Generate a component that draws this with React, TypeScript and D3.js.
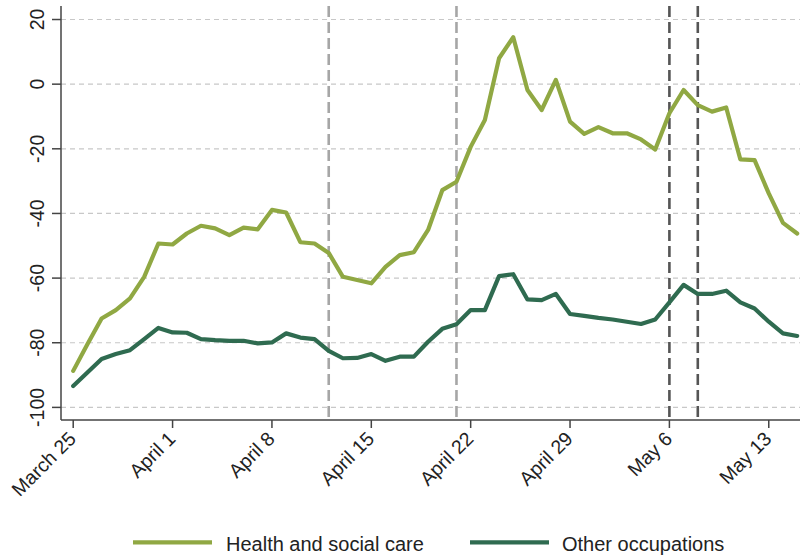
import React from "react";
import * as d3 from "d3";

const days: number[] = [
  0, 1, 2, 3, 4, 5, 6, 7, 8, 9, 10, 11, 12, 13, 14, 15, 16, 17, 18, 19, 20, 21, 22, 23, 24, 25,
  26, 27, 28, 29, 30, 31, 32, 33, 34, 35, 36, 37, 38, 39, 40, 41, 42, 43, 44, 45, 46, 47, 48, 49, 50, 51,
];

const health: number[] = [
  -88.7, -80.5, -72.5, -69.9, -66.3, -59.6, -49.3, -49.6, -46.2, -43.8, -44.6, -46.7, -44.4, -44.9,
  -38.9, -39.7, -48.9, -49.3, -52.2, -59.6, -60.6, -61.6, -56.5, -52.9, -52.0, -45.1, -32.8, -30.2,
  -19.4, -11.1, 8.0, 14.5, -1.8, -8.0, 1.3, -11.6, -15.4, -13.3, -15.2, -15.2, -17.1, -20.2, -9.0,
  -1.8, -6.5, -8.5, -7.2, -23.3, -23.5, -33.8, -42.9, -46.2,
];

const other: number[] = [
  -93.4, -89.2, -85.0, -83.5, -82.3, -78.9, -75.4, -76.8, -76.9, -78.9, -79.2, -79.4, -79.4, -80.2,
  -79.9, -77.1, -78.4, -78.9, -82.5, -84.8, -84.7, -83.5, -85.6, -84.3, -84.3, -79.7, -75.7, -74.3,
  -69.9, -69.9, -59.4, -58.8, -66.6, -66.8, -64.9, -71.1, -71.7, -72.3, -72.8, -73.5, -74.2, -72.8,
  -67.5, -62.1, -64.9, -64.9, -63.9, -67.5, -69.4, -73.5, -77.1, -77.9,
];

const xTickDays: number[] = [0, 7, 14, 21, 28, 35, 42, 49];
const xTickLabels: string[] = ["March 25", "April 1", "April 8", "April 15", "April 22", "April 29", "May 6", "May 13"];
const yTicks: number[] = [20, 0, -20, -40, -60, -80, -100];
const eventDays: number[] = [18, 27, 42, 44];
const eventColors: string[] = ["#a6a6a6", "#a6a6a6", "#555555", "#555555"];
const seriesNames: string[] = ["Health and social care", "Other occupations"];
const seriesColors: string[] = ["#90a843", "#2f6b50"];

const W = 800;
const H = 555;
const left = 61;
const right = 800;
const top = 6;
const bottom = 420;
const FONT = "'Liberation Sans', Arial, Helvetica, sans-serif";

export default function App() {
  const x = d3.scaleLinear().domain([-0.86, 51.2]).range([left, right]);
  const y = d3.scaleLinear().domain([-103.9, 24.18]).range([bottom, top]);

  const line = d3
    .line<number>()
    .x((_, i) => x(days[i]))
    .y((d) => y(d));

  const series = [health, other];

  return (
    <svg
      width={W}
      height={H}
      style={{ position: "absolute", left: 0, top: 0, background: "#fff" }}
      fontFamily={FONT}
    >
      {/* gridlines */}
      {yTicks.map((t) => (
        <line
          key={"g" + t}
          x1={left}
          x2={right}
          y1={y(t)}
          y2={y(t)}
          stroke="#c8c8c8"
          strokeWidth={1.2}
          strokeDasharray="5,4"
        />
      ))}
      {/* event lines */}
      {eventDays.map((d, i) => (
        <line
          key={"e" + i}
          x1={x(d)}
          x2={x(d)}
          y1={top}
          y2={bottom}
          stroke={eventColors[i]}
          strokeWidth={2.6}
          strokeDasharray="11,5"
        />
      ))}
      {/* series */}
      {series.map((s, i) => (
        <path
          key={"s" + i}
          d={line(s) || ""}
          fill="none"
          stroke={seriesColors[i]}
          strokeWidth={4.2}
          strokeLinejoin="round"
          strokeLinecap="round"
        />
      ))}
      {/* axes */}
      <line x1={left} x2={left} y1={top} y2={bottom} stroke="#444" strokeWidth={1.5} />
      <line x1={left} x2={right} y1={bottom} y2={bottom} stroke="#444" strokeWidth={1.5} />
      {yTicks.map((t) => (
        <g key={"yt" + t}>
          <line x1={left - 9} x2={left} y1={y(t)} y2={y(t)} stroke="#444" strokeWidth={1.5} />
          <text
            transform={`translate(43.5,${y(t)}) rotate(-90)`}
            textAnchor="middle"
            fontSize={19.5}
            fill="#222"
          >
            {t}
          </text>
        </g>
      ))}
      {xTickDays.map((d, i) => (
        <g key={"xt" + d}>
          <line x1={x(d)} x2={x(d)} y1={bottom} y2={bottom + 8} stroke="#444" strokeWidth={1.5} />
          <text
            transform={`translate(${x(d) + 4},${bottom + 20}) rotate(-45)`}
            textAnchor="end"
            fontSize={19.5}
            fill="#222"
          >
            {xTickLabels[i]}
          </text>
        </g>
      ))}
      {/* legend */}
      <line x1={133} x2={212} y1={542.3} y2={542.3} stroke={seriesColors[0]} strokeWidth={4.2} />
      <text x={226} y={550.5} fontSize={20} fill="#222">
        {seriesNames[0]}
      </text>
      <line x1={470} x2={549} y1={542.3} y2={542.3} stroke={seriesColors[1]} strokeWidth={4.2} />
      <text x={562} y={550.5} fontSize={20} fill="#222">
        {seriesNames[1]}
      </text>
    </svg>
  );
}
